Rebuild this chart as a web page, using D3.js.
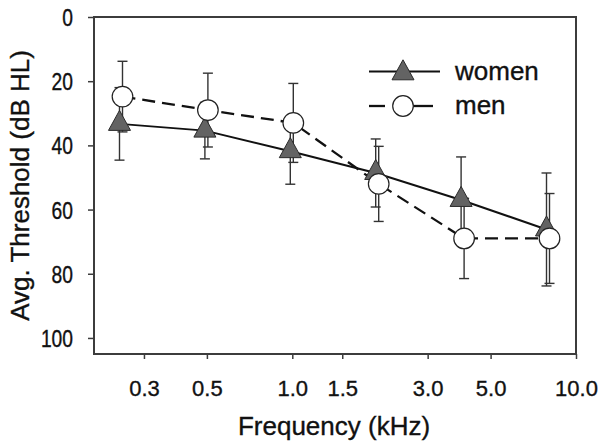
<!DOCTYPE html>
<html>
<head>
<meta charset="utf-8">
<script src="https://cdn.jsdelivr.net/npm/d3@7"></script>
<style>
  html, body { margin: 0; padding: 0; background: #fff; }
  svg { display: block; font-family: "Liberation Sans", Arial, sans-serif; }
</style>
</head>
<body>
<svg id="chart" width="600" height="447"></svg>
<script>
// ---- data ----
const freqs = [0.25, 0.5, 1, 2, 4, 8];               // kHz
const womenMean = [33.3, 35.4, 41.8, 48.6, 57, 66.2];
const womenSD   = [11.3, 8.8, 10.3, 10.6, 13.4, 17.6];
const menMean   = [24.8, 29, 33, 52, 69, 69];
const menSD     = [11, 11.5, 12.3, 11.7, 12.5, 14];
const xTickValues = [0.3, 0.5, 1.0, 1.5, 3.0, 5.0, 10.0];
const yTickValues = [0, 20, 40, 60, 80, 100];
const seriesNames = ["women", "men"];

// ---- layout ----
const svg = d3.select("#chart");
const L = 94, R = 576, T = 17, B = 354;
const x = d3.scaleLog().domain([0.2, 10]).range([L, R]);
const y = d3.scaleLinear().domain([0, 105]).range([T, B]);

const axisColor = "#3c3c3c";
const textStroke = 0.35;

// axes
const yAxis = svg.append("g")
  .attr("transform", `translate(${L},0)`)
  .call(d3.axisLeft(y).tickValues(yTickValues).tickSize(6).tickPadding(15).tickFormat(d3.format("d")));
const xAxis = svg.append("g")
  .attr("transform", `translate(0,${B})`)
  .call(d3.axisBottom(x).tickValues(xTickValues).tickSize(5).tickPadding(0).tickFormat(d3.format(".1f")));

[yAxis, xAxis].forEach(g => {
  g.select(".domain").remove();
  g.selectAll(".tick line").attr("stroke", axisColor).attr("stroke-width", 1.5);
  g.selectAll(".tick text").attr("fill", "#111").attr("stroke", "#111").attr("stroke-width", textStroke)
    .style("font-family", '"Liberation Sans", Arial, sans-serif');
});
const ySx = 0.82;
yAxis.selectAll(".tick text").style("font-size", "23.5px")
  .attr("x", -21 / ySx).attr("dy", "0.36em").attr("transform", `scale(${ySx},1)`);
xAxis.selectAll(".tick text").style("font-size", "22px").attr("y", 42).attr("dy", 0);

// frame
svg.append("rect").attr("x", L).attr("y", T).attr("width", R - L).attr("height", B - T)
  .attr("fill", "none").attr("stroke", axisColor).attr("stroke-width", 2);

// titles
svg.append("text").attr("transform", `translate(29,${(T + B) / 2}) rotate(-90)`)
  .attr("text-anchor", "middle").style("font-size", "26px").attr("fill", "#111")
  .attr("stroke", "#111").attr("stroke-width", textStroke)
  .text("Avg. Threshold (dB HL)");
svg.append("text").attr("x", 334).attr("y", 435)
  .attr("text-anchor", "middle").style("font-size", "26px").attr("fill", "#111")
  .attr("stroke", "#111").attr("stroke-width", textStroke)
  .text("Frequency (kHz)");

// series
const women = freqs.map((f, i) => ({ f, m: womenMean[i], sd: womenSD[i] }));
const men = freqs.map((f, i) => ({ f, m: menMean[i], sd: menSD[i] }));
const offW = -2, offM = 1;

const trianglePath = "M0,-13.5L11,6.5L-11,6.5Z";

function errorBars(data, off) {
  const g = svg.append("g").attr("stroke", "#333").attr("stroke-width", 1.4).attr("fill", "none");
  data.forEach(d => {
    const cx = x(d.f) + off, y1 = y(d.m - d.sd), y2 = y(d.m + d.sd);
    g.append("line").attr("x1", cx).attr("x2", cx).attr("y1", y1).attr("y2", y2);
    g.append("line").attr("x1", cx - 5).attr("x2", cx + 5).attr("y1", y1).attr("y2", y1);
    g.append("line").attr("x1", cx - 5).attr("x2", cx + 5).attr("y1", y2).attr("y2", y2);
  });
}
errorBars(women, offW);
errorBars(men, offM);

const lineW = d3.line().x(d => x(d.f) + offW).y(d => y(d.m));
const lineM = d3.line().x(d => x(d.f) + offM).y(d => y(d.m));
svg.append("path").attr("d", lineW(women)).attr("fill", "none").attr("stroke", "#111").attr("stroke-width", 2);
svg.append("path").attr("d", lineM(men)).attr("fill", "none").attr("stroke", "#111").attr("stroke-width", 2.3)
  .attr("stroke-dasharray", "13,7");

svg.append("g").selectAll("path").data(women).join("path")
  .attr("d", trianglePath)
  .attr("transform", d => `translate(${x(d.f) + offW},${y(d.m)})`)
  .attr("fill", "#636363").attr("stroke", "#2a2a2a").attr("stroke-width", 1);
svg.append("g").selectAll("circle").data(men).join("circle")
  .attr("cx", d => x(d.f) + offM).attr("cy", d => y(d.m)).attr("r", 10.3)
  .attr("fill", "#fff").attr("stroke", "#222").attr("stroke-width", 1.2);

// legend
const lg = svg.append("g");
lg.append("line").attr("x1", 369).attr("x2", 440).attr("y1", 71.5).attr("y2", 71.5)
  .attr("stroke", "#111").attr("stroke-width", 2);
lg.append("path").attr("d", trianglePath).attr("transform", "translate(403,73.3)")
  .attr("fill", "#636363").attr("stroke", "#2a2a2a").attr("stroke-width", 1);
lg.append("text").attr("x", 455).attr("y", 80).style("font-size", "26px").attr("fill", "#111")
  .attr("stroke", "#111").attr("stroke-width", textStroke).text(seriesNames[0]);
lg.append("line").attr("x1", 369).attr("x2", 385).attr("y1", 106).attr("y2", 106)
  .attr("stroke", "#111").attr("stroke-width", 2.3);
lg.append("line").attr("x1", 413).attr("x2", 433).attr("y1", 106).attr("y2", 106)
  .attr("stroke", "#111").attr("stroke-width", 2.3);
lg.append("circle").attr("cx", 403).attr("cy", 106).attr("r", 10.3)
  .attr("fill", "#fff").attr("stroke", "#222").attr("stroke-width", 1.2);
lg.append("text").attr("x", 455).attr("y", 114).style("font-size", "26px").attr("fill", "#111")
  .attr("stroke", "#111").attr("stroke-width", textStroke).text(seriesNames[1]);
</script>
</body>
</html>
